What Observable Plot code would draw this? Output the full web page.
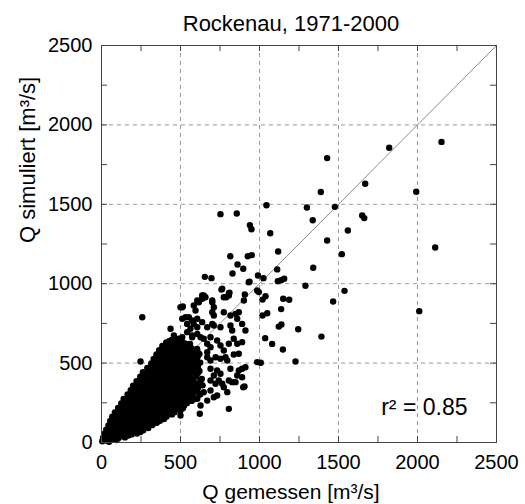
<!DOCTYPE html>
<html><head><meta charset="utf-8">
<script src="https://cdn.jsdelivr.net/npm/d3@7"></script>
<script src="https://cdn.jsdelivr.net/npm/@observablehq/plot@0.6"></script>
<style>body{margin:0;background:#fff}</style>
</head><body><div id="chart"></div>
<script>
const titleText = ["Rockenau, 1971-2000"];
const xLabel = ["Q gemessen [m³/s]"];
const yLabel = ["Q simuliert [m³/s]"];
const r2Text = ["r² = 0.85"];
const majorTicks = [0, 500, 1000, 1500, 2000, 2500];
const gridTicks = [500, 1000, 1500, 2000];
const minorTicks = [250, 500, 750, 1000, 1250, 1500, 1750, 2000, 2250];
const oneToOne = [0, 2500];

// [Q gemessen, Q simuliert] pairs
const coreCloud = [
[5,8],[28,12],[48,5],
[10,30],[40,27],[74,33],[108,29],[148,32],
[18,55],[50,52],[86,58],[120,54],[156,57],[190,51],[224,56],
[30,80],[62,84],[96,78],[130,82],[166,79],[200,85],[234,80],[264,77],
[44,108],[78,104],[112,110],[148,106],[182,111],[218,105],[252,109],[288,104],[322,110],
[55,135],[90,138],[125,132],[160,137],[196,134],[230,139],[265,133],[300,136],[336,131],[370,137],
[68,162],[100,159],[136,165],[170,160],[206,164],[240,158],[276,163],[310,160],[346,165],[380,159],[412,163],
[85,190],[118,193],[152,187],[188,192],[222,188],[258,194],[292,189],[328,191],[362,186],[398,193],[432,188],[462,191],
[105,218],[136,221],[170,215],[205,220],[240,216],[275,222],[310,217],[345,219],[380,214],[415,221],[450,217],[485,220],[515,215],
[125,246],[158,243],[192,249],[226,244],[260,248],[295,242],[330,247],[365,245],[400,250],[435,243],[470,248],[505,244],[540,247],
[140,274],[172,271],[206,277],[240,272],[275,276],[310,270],[345,275],[380,273],[415,278],[450,271],[485,276],[520,272],[555,277],[585,273],
[165,302],[198,299],[232,305],[266,300],[300,304],[335,298],[370,303],[405,301],[440,306],[475,299],[510,304],[545,300],[580,305],
[185,330],[218,327],[252,333],[286,328],[320,332],[355,326],[390,331],[425,329],[460,334],[495,327],[530,332],[565,328],[600,331],
[200,358],[235,355],[270,361],[305,356],[340,360],[375,354],[410,359],[445,357],[480,362],[515,355],[550,360],[590,356],
[222,386],[256,383],[290,389],[325,384],[360,388],[395,382],[430,387],[465,385],[500,390],[535,383],[570,388],
[245,414],[280,411],[315,417],[350,412],[385,416],[420,410],[455,415],[490,413],[525,418],[560,411],[600,415],
[262,442],[296,439],[330,445],[365,440],[400,444],[435,438],[470,443],[505,441],[540,446],
[290,470],[325,467],[360,473],[395,468],[430,472],[465,466],[500,471],[535,469],
[315,498],[350,495],[385,501],[420,496],[455,500],[490,494],[525,499],
[330,526],[362,523],[397,529],[432,524],[467,528],[502,522],
[348,554],[382,551],[417,557],[452,552],[487,556],
[365,582],[400,579],[435,585],[470,580],
[385,608],[420,605]
];
// between-row readings that close the gaps in the solid part of the cloud
const coreInfill = [
[20,18],[60,18],[95,16],[30,42],[62,40],[95,44],[130,42],[170,44],
[36,68],[70,66],[104,70],[140,67],[176,70],[212,68],[246,66],
[52,94],[86,92],[120,96],[156,93],[190,97],[226,92],[262,95],[296,91],
[64,122],[100,120],[136,124],[172,121],[208,125],[244,119],[280,123],[316,120],[350,124],
[80,150],[116,148],[152,151],[188,147],[224,151],[258,148],[292,152],[328,147],[362,151],[396,148],
[96,176],[130,174],[166,178],[200,175],[236,179],[270,174],[306,178],[340,175],[376,179],[410,174],[446,177],
[116,204],[150,202],[186,206],[220,203],[256,207],[290,202],[326,206],[360,203],[396,207],[432,202],[468,205],[500,203],
[136,232],[170,230],[206,234],[242,231],[278,235],[312,230],[348,234],[382,231],[418,235],[452,230],[488,233],[522,231],
[150,260],[186,258],[220,262],[256,259],[292,263],[326,258],[362,262],[396,259],[432,263],[466,258],[502,261],[538,259],[570,262],
[180,288],[214,286],[250,290],[284,287],[318,291],[352,286],[388,290],[422,287],[458,291],[492,286],[528,289],[562,287],
[200,316],[234,314],[268,318],[302,315],[338,319],[372,314],[408,318],[442,315],[478,319],[512,314],[548,317],[584,315],
[214,344],[250,342],[286,346],[322,343],[358,347],[392,342],[428,346],[462,343],[498,347],[532,342],[570,345],[610,343],
[236,372],[272,370],[306,374],[342,371],[378,375],[412,370],[448,374],[482,371],[518,375],[552,370],[590,373],
[258,400],[294,398],[330,402],[366,399],[402,403],[436,398],[472,402],[508,399],[542,403],[580,399],
[276,428],[312,426],[348,430],[382,427],[418,431],[452,426],[488,430],[522,427],[556,431],
[304,456],[340,454],[376,458],[412,455],[448,459],[482,454],[518,457],
[330,484],[366,482],[402,486],[438,483],[472,487],[508,482],
[345,512],[380,510],[414,514],[450,511],[484,515],
[362,540],[398,538],[434,542],[468,539],
[378,568],[414,566],[450,570],
[400,595]
];
// the dense upper-right shoulder of the cloud
const cloudShoulder = [
[575,440],[610,437],[570,470],[605,468],[560,500],[595,497],[625,503],
[535,530],[570,528],[605,533],[520,560],[555,557],[590,562],[620,558],
[500,590],[535,587],[570,593],[605,589],[455,615],[490,618],[525,613],[560,620],
[430,640],[465,643],[500,638],
[590,455],[555,485],[610,485],[550,515],[585,515],[500,545],[540,545],[575,545],[610,545],
[485,575],[520,575],[555,575],[590,575],[470,600],[510,600],[545,600],[440,625],[480,628],[515,630]
];
const cloudEdge = [
[410,630],[445,645],[470,610],[500,600],[520,575],[560,540],[590,520],[610,480],[620,450],[635,400],[640,360],[620,300]
];
const midScatter = [
[764,968],[806,940],[806,926],[774,915],[932,1009],[647,926],[637,905],[701,883],[711,852],[701,820],[711,800],
[606,894],[584,863],[595,831],[511,852],[774,820],[816,800],[848,810],[869,820],[901,894],[890,747],[859,779],
[911,705],[816,737],[827,705],[753,726],[532,789],[542,747],[563,716],[584,747],[606,779],[637,758],[669,726],
[711,737],[437,716],[458,674],[489,653],[574,663],[606,684],[647,653],[690,663],[732,642],[753,611],[774,579],
[690,600],[669,569],[837,653],[859,622],[890,632],[806,622],[837,554],[869,559],[669,537],[690,516],[722,537],
[753,527],[785,537],[796,516],[985,957],[985,506],[690,464],[732,453],[753,433],[711,422],[627,390],[690,390],
[722,370],[742,390],[816,464],[869,453],[890,464],[806,390],[827,380],[859,422],[890,411],[647,317],[690,327],
[711,285],[606,275],[627,233],[806,212],[764,370],[774,348],[500,170],[622,181],[669,264],[796,317],[848,380],
[897,348],[627,306],[606,370],[258,789],[247,510],[511,779],[553,789],[500,852],[542,695],[574,674],[511,663],
[479,622],[532,622],[627,663],[669,622],[606,579],[563,559],[515,856],[616,883],[637,926],[658,915],[701,894],
[574,768],[606,726],[701,747],[654,1043],[696,1035],[759,963],[905,353],[911,474],[732,296]
];
const upperScatter = [
[753,1438],[856,1442],[1044,1494],[1300,1480],[1388,1577],[1337,1400],[1428,1272],[939,1369],[949,1343],
[1068,1318],[1118,1203],[815,1173],[926,1173],[951,1180],[861,1121],[897,1094],[829,1064],[1340,1100],
[1112,1090],[990,1052],[1025,1035],[937,1012],[1116,1016],[1137,1022],[1156,1031],[1291,987],
[810,943],[789,915],[907,932],[996,947],[1038,921],[1019,900],[1150,905],[1188,899],[1137,840],[1049,814],
[1019,800],[1122,730],[1139,743],[1245,713],[1392,667],[1036,657],[1080,621],[1148,586],[1228,510],[1008,502]
];
const outliers = [
[1428,1791],[1821,1856],[2152,1893],[1669,1629],[1992,1579],[1477,1484],[1650,1430],[1663,1413],
[1559,1335],[1521,1186],[2112,1228],[1538,955],[1466,888],[2011,827]
];

const points = [...coreCloud, ...coreInfill, ...cloudShoulder, ...cloudEdge, ...midScatter, ...upperScatter, ...outliers];
const font = "Liberation Sans, Arial, Helvetica, sans-serif";
const axisColor = "#444";

const chart = Plot.plot({
  width: 525,
  height: 504,
  marginLeft: 101,
  marginRight: 29,
  marginTop: 45,
  marginBottom: 62,
  style: {fontFamily: font, background: "white", color: "black"},
  x: {domain: [0, 2500]},
  y: {domain: [0, 2500]},
  marks: [
    Plot.gridX(gridTicks, {stroke: "#9a9a9a", strokeOpacity: 1, strokeDasharray: "4,4"}),
    Plot.gridY(gridTicks, {stroke: "#9a9a9a", strokeOpacity: 1, strokeDasharray: "4,4"}),
    Plot.line(oneToOne, {x: d => d, y: d => d, stroke: "#8a8a8a", strokeWidth: 1}),
    Plot.dot(points, {x: d => d[0], y: d => d[1], r: 3.2, fill: "black", stroke: null}),
    Plot.tickX(minorTicks, {x: d => d, insetTop: 391, stroke: axisColor}),
    Plot.tickX(minorTicks, {x: d => d, insetBottom: 391, stroke: axisColor}),
    Plot.tickY(minorTicks, {y: d => d, insetRight: 389, stroke: axisColor}),
    Plot.tickY(minorTicks, {y: d => d, insetLeft: 389, stroke: axisColor}),
    Plot.frame({stroke: axisColor}),
    Plot.axisX(majorTicks, {anchor: "bottom", tickSize: 0, tickPadding: 12, fontSize: 20, label: null, fill: "black", tickFormat: d => String(d)}),
    Plot.axisY(majorTicks, {anchor: "left", tickSize: 0, tickPadding: 9, fontSize: 20, label: null, fill: "black", tickFormat: d => String(d)}),
    Plot.text(titleText, {frameAnchor: "top", dx: -8, dy: -22, fontSize: 22, lineAnchor: "middle", fill: "black"}),
    Plot.text(xLabel, {frameAnchor: "bottom", dx: -8, dy: 50, fontSize: 21, lineAnchor: "middle", fill: "black"}),
    Plot.text(yLabel, {frameAnchor: "left", dx: -74, dy: -1, rotate: -90, fontSize: 22, lineAnchor: "middle", fill: "black"}),
    Plot.text(r2Text, {frameAnchor: "bottom-right", textAnchor: "end", dx: -29, dy: -35, fontSize: 23, lineAnchor: "middle", fill: "black"})
  ]
});
document.getElementById("chart").appendChild(chart);
</script>
</body></html>
